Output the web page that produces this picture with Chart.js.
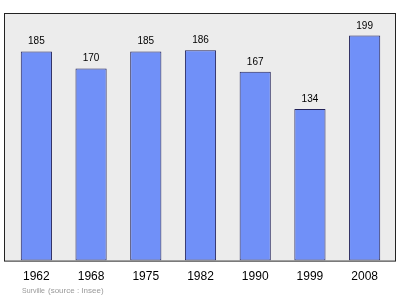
<!DOCTYPE html>
<html>
<head>
<meta charset="utf-8">
<script src="https://cdn.jsdelivr.net/npm/chart.js@4"></script>
<style>
  html, body { margin: 0; padding: 0; background: #ffffff; }
  #wrap { width: 400px; height: 299px; position: relative; }
</style>
</head>
<body>
<div id="wrap"><canvas id="pop-chart" width="400" height="299"></canvas></div>
<script>
// データ
const years = ['1962', '1968', '1975', '1982', '1990', '1999', '2008'];
const population = [185, 170, 185, 186, 167, 134, 199];
const yMax = 219;

// 背景と枠を描くプラグイン
const framePlugin = {
  id: 'frame',
  beforeDraw(chart) {
    const { ctx, chartArea } = chart;
    const x0 = chartArea.left - 5, x1 = chartArea.right + 4;
    ctx.save();
    ctx.fillStyle = '#ececec';
    ctx.fillRect(x0, chartArea.top, x1 - x0, chartArea.bottom - chartArea.top);
    ctx.restore();
  },
  afterDatasetsDraw(chart) {
    const { ctx, chartArea } = chart;
    const x0 = chartArea.left - 5, x1 = chartArea.right + 4;
    ctx.save();
    ctx.strokeStyle = '#222222';
    ctx.lineWidth = 1;
    ctx.strokeRect(x0 + 0.5, chartArea.top + 0.5, x1 - x0 - 1, chartArea.bottom - chartArea.top);
    ctx.restore();
  }
};

// 値ラベルとソース表記
const labelPlugin = {
  id: 'valueLabels',
  afterDraw(chart) {
    const { ctx } = chart;
    const meta = chart.getDatasetMeta(0);
    ctx.save();
    ctx.fillStyle = '#000000';
    ctx.font = "10px 'Liberation Sans', Arial, sans-serif";
    ctx.textAlign = 'center';
    ctx.textBaseline = 'alphabetic';
    meta.data.forEach((bar, i) => {
      ctx.fillText(String(population[i]), bar.x, bar.y - 7);
    });
    ctx.fillStyle = '#999999';
    ctx.textAlign = 'left';
    ctx.textBaseline = 'middle';
    ctx.font = "7px 'Liberation Sans', Arial, sans-serif";
    ctx.fillText('Surville', 22, 291);
    ctx.font = "8px 'Liberation Sans', Arial, sans-serif";
    ctx.fillText('(source : Insee)', 48, 291);
    ctx.restore();
  }
};

new Chart(document.getElementById('pop-chart'), {
  type: 'bar',
  data: {
    labels: years,
    datasets: [{
      data: population,
      backgroundColor: '#7090f8',
      borderColor: '#22225a',
      borderWidth: 1,
      borderSkipped: false,
      barPercentage: 0.57,
      categoryPercentage: 1.0
    }]
  },
  options: {
    responsive: false,
    animation: false,
    devicePixelRatio: 1,
    layout: { padding: { left: 9, right: 8, top: 13, bottom: 6 } },
    plugins: { legend: { display: false }, tooltip: { enabled: false } },
    scales: {
      x: {
        grid: { display: false, drawTicks: false },
        border: { display: false },
        ticks: {
          color: '#000000',
          padding: 9,
          font: { family: "'Liberation Sans', Arial, sans-serif", size: 12 }
        }
      },
      y: {
        display: false,
        min: 0,
        max: yMax
      }
    }
  },
  plugins: [framePlugin, labelPlugin]
});
</script>
</body>
</html>
